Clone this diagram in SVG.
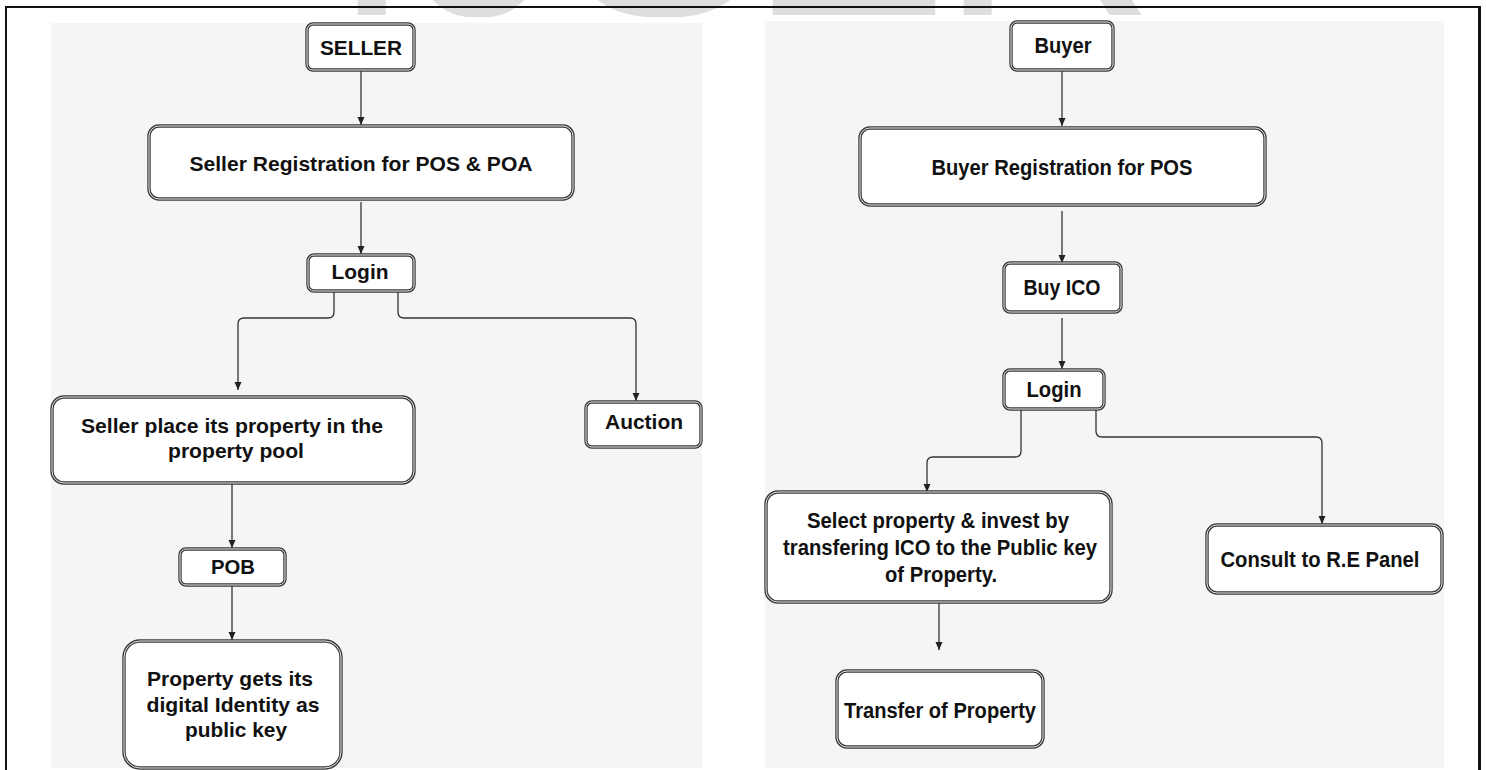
<svg xmlns="http://www.w3.org/2000/svg" width="1486" height="770" viewBox="0 0 1486 770">
<style>
.wm{font-family:"Liberation Sans",Arial,sans-serif;font-size:300px;fill:#dedede}
.panel{fill:#f5f5f5}
.frame{stroke:#111;fill:none}
.box{fill:#fff;stroke:#3a3a3a;stroke-width:3.4}
.boxin{fill:none;stroke:#e6e6e6;stroke-width:1}
.t{font-family:"Liberation Sans",Arial,sans-serif;font-weight:bold;font-size:21px;fill:#111;text-anchor:middle}
.tr{font-size:22px}
.c{fill:none;stroke:#333;stroke-width:1.3}
</style>
<defs>
<marker id="ah" markerUnits="userSpaceOnUse" markerWidth="8" markerHeight="8" viewBox="0 0 8 8" refX="8" refY="4" orient="auto">
<path d="M0,0.5 L8,4 L0,7.5 z" fill="#222"/>
</marker>
<clipPath id="wmclip"><rect x="0" y="0" width="1486" height="17"/></clipPath>
</defs>
<rect width="1486" height="770" fill="#fff"/>
<g id="watermark" clip-path="url(#wmclip)">
<text class="wm" x="330 412 563 748 939" y="15">IJSER</text>
</g>
<g id="panels">
<rect class="panel" x="51" y="23" width="651" height="745"/>
<rect class="panel" x="765" y="21" width="679" height="747"/>
</g>
<g id="frame">
<line class="frame" x1="5" y1="7" x2="1481" y2="7" stroke-width="2"/>
<line class="frame" x1="6" y1="7" x2="6" y2="770" stroke-width="2"/>
<line class="frame" x1="1479.5" y1="7" x2="1479.5" y2="770" stroke-width="3"/>
</g>
<g id="connectors">
<path class="c" d="M361,70 V125" marker-end="url(#ah)"/>
<path class="c" d="M361,202 V254" marker-end="url(#ah)"/>
<path class="c" d="M334,291 V312 Q334,318 328,318 H244 Q238,318 238,324 V390" marker-end="url(#ah)"/>
<path class="c" d="M398,291 V312 Q398,318 404,318 H630 Q636,318 636,324 V401" marker-end="url(#ah)"/>
<path class="c" d="M232,483 V548" marker-end="url(#ah)"/>
<path class="c" d="M232,585 V640" marker-end="url(#ah)"/>
<path class="c" d="M1062,70 V126" marker-end="url(#ah)"/>
<path class="c" d="M1062,211 V263" marker-end="url(#ah)"/>
<path class="c" d="M1062,318 V369" marker-end="url(#ah)"/>
<path class="c" d="M1021,409 V451 Q1021,457 1015,457 H933 Q927,457 927,463 V492" marker-end="url(#ah)"/>
<path class="c" d="M1096,409 V431 Q1096,437 1102,437 H1316 Q1322,437 1322,443 V524" marker-end="url(#ah)"/>
<path class="c" d="M939,602 V650" marker-end="url(#ah)"/>
</g>
<g id="seller">
<rect class="box" x="307" y="24" width="107" height="46" rx="6"/><rect class="boxin" x="307" y="24" width="107" height="46" rx="6"/>
<text class="t" x="361" y="55" textLength="82" lengthAdjust="spacingAndGlyphs">SELLER</text>
</g>
<g id="seller-registration">
<rect class="box" x="149" y="126" width="424" height="73" rx="10"/><rect class="boxin" x="149" y="126" width="424" height="73" rx="10"/>
<text class="t" x="361" y="171" textLength="343" lengthAdjust="spacingAndGlyphs">Seller Registration for POS &amp; POA</text>
</g>
<g id="seller-login">
<rect class="box" x="308" y="255" width="106" height="36" rx="6"/><rect class="boxin" x="308" y="255" width="106" height="36" rx="6"/>
<text class="t" x="360" y="279" textLength="57" lengthAdjust="spacingAndGlyphs">Login</text>
</g>
<g id="seller-place">
<rect class="box" x="52" y="397" width="362" height="86" rx="12"/><rect class="boxin" x="52" y="397" width="362" height="86" rx="12"/>
<text class="t" x="232" y="433" textLength="302" lengthAdjust="spacingAndGlyphs">Seller place its property in the</text>
<text class="t" x="236" y="458" textLength="136" lengthAdjust="spacingAndGlyphs">property pool</text>
</g>
<g id="auction">
<rect class="box" x="586" y="402" width="115" height="45" rx="6"/><rect class="boxin" x="586" y="402" width="115" height="45" rx="6"/>
<text class="t" x="644" y="429" textLength="78" lengthAdjust="spacingAndGlyphs">Auction</text>
</g>
<g id="pob">
<rect class="box" x="180" y="549" width="105" height="36" rx="6"/><rect class="boxin" x="180" y="549" width="105" height="36" rx="6"/>
<text class="t" x="233" y="574" textLength="44" lengthAdjust="spacingAndGlyphs">POB</text>
</g>
<g id="property-identity">
<rect class="box" x="124" y="641" width="217" height="127" rx="16"/><rect class="boxin" x="124" y="641" width="217" height="127" rx="16"/>
<text class="t" x="230" y="686" textLength="166" lengthAdjust="spacingAndGlyphs">Property gets its</text>
<text class="t" x="233" y="712" textLength="173" lengthAdjust="spacingAndGlyphs">digital Identity as</text>
<text class="t" x="236" y="737" textLength="102" lengthAdjust="spacingAndGlyphs">public key</text>
</g>
<g id="buyer">
<rect class="box" x="1011" y="22" width="102" height="48" rx="6"/><rect class="boxin" x="1011" y="22" width="102" height="48" rx="6"/>
<text class="t tr" x="1063" y="53" textLength="57" lengthAdjust="spacingAndGlyphs">Buyer</text>
</g>
<g id="buyer-registration">
<rect class="box" x="860" y="128" width="405" height="77" rx="10"/><rect class="boxin" x="860" y="128" width="405" height="77" rx="10"/>
<text class="t tr" x="1062" y="175" textLength="261" lengthAdjust="spacingAndGlyphs">Buyer Registration for POS</text>
</g>
<g id="buy-ico">
<rect class="box" x="1004" y="263" width="117" height="49" rx="6"/><rect class="boxin" x="1004" y="263" width="117" height="49" rx="6"/>
<text class="t tr" x="1062" y="295" textLength="77" lengthAdjust="spacingAndGlyphs">Buy ICO</text>
</g>
<g id="buyer-login">
<rect class="box" x="1004" y="370" width="100" height="39" rx="6"/><rect class="boxin" x="1004" y="370" width="100" height="39" rx="6"/>
<text class="t tr" x="1054" y="397" textLength="55" lengthAdjust="spacingAndGlyphs">Login</text>
</g>
<g id="select-property">
<rect class="box" x="766" y="492" width="345" height="110" rx="12"/><rect class="boxin" x="766" y="492" width="345" height="110" rx="12"/>
<text class="t tr" x="938" y="528" textLength="262" lengthAdjust="spacingAndGlyphs">Select property &amp; invest by</text>
<text class="t tr" x="940" y="555" textLength="314" lengthAdjust="spacingAndGlyphs">transfering ICO to the Public key</text>
<text class="t tr" x="941" y="582" textLength="112" lengthAdjust="spacingAndGlyphs">of Property.</text>
</g>
<g id="consult">
<rect class="box" x="1207" y="525" width="235" height="68" rx="10"/><rect class="boxin" x="1207" y="525" width="235" height="68" rx="10"/>
<text class="t tr" x="1320" y="567" textLength="199" lengthAdjust="spacingAndGlyphs">Consult to R.E Panel</text>
</g>
<g id="transfer">
<rect class="box" x="837" y="671" width="206" height="76" rx="10"/><rect class="boxin" x="837" y="671" width="206" height="76" rx="10"/>
<text class="t tr" x="940" y="718" textLength="192" lengthAdjust="spacingAndGlyphs">Transfer of Property</text>
</g>
</svg>
